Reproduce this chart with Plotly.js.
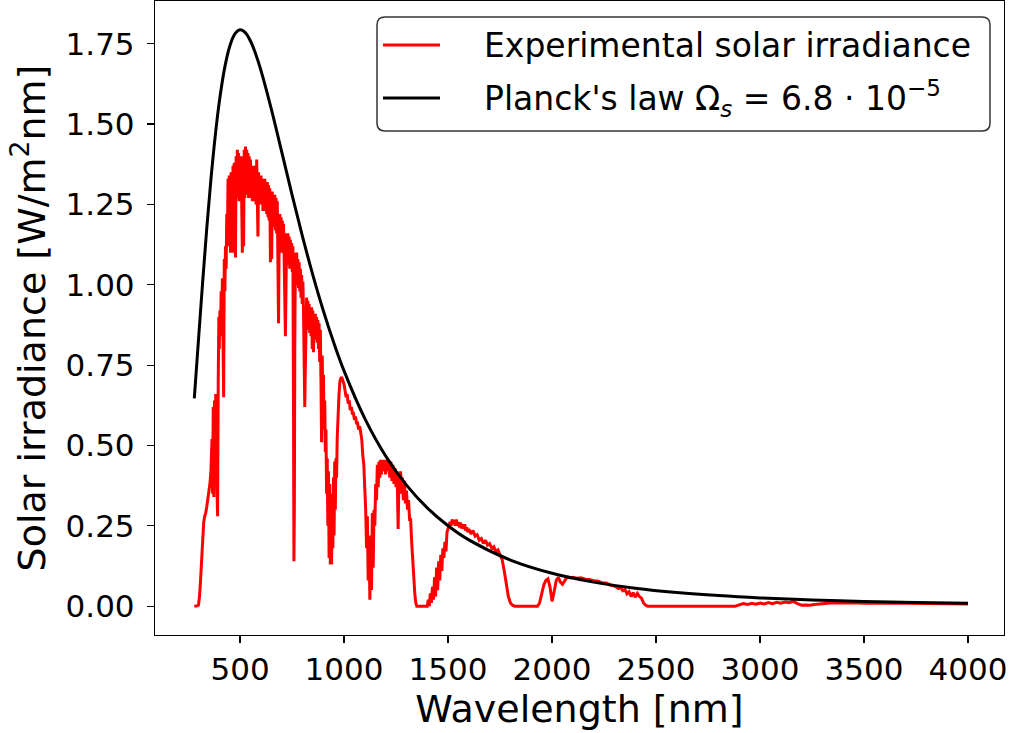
<!DOCTYPE html>
<html><head><meta charset="utf-8">
<script src="https://cdn.plot.ly/plotly-3.0.1.min.js"></script>
<style>body{margin:0;background:#fff}#chart{width:1011px;height:733px}</style>
</head><body><div id="chart"></div>
<script>
// Experimental solar irradiance, by segment
const uvWl  = [280,285,290,295,300,305,310,315,320,325,330,335,340,345,350,355,360,365,368,371,374,377,380,383,386,389,392,395,398];
const uvIrr = [0,0,0,0.001,0.003,0.03,0.08,0.15,0.22,0.26,0.28,0.29,0.31,0.33,0.36,0.38,0.42,0.52,0.35,0.62,0.34,0.64,0.40,0.66,0.45,0.30,0.28,0.70,0.90];

const visWl  = [400,403,406,409,412,415,418,421,424,427,430,433,436,439,442,445,448,451,454,457,460,463,466,469,472,475,478,481,484,487,490,493,496,499,502,505,508,511,514,517,520,523,526,529,532,535,538,541,544,547,550,553,556,559,562,565,568,571,574,577,580,583,586,589,592,595,598,601,604,607,610,613,616,619,622,625,628,631,634,637,640,643,646,649,652,655,658,661,664,667,670,673,676,679,682,685,688,691,694,697,700];
const visIrr = [0.80,0.92,0.84,0.98,0.88,1.02,0.90,0.65,1.08,0.98,1.12,1.05,1.22,1.12,1.33,1.18,1.34,1.22,1.10,1.35,1.24,1.10,1.37,1.26,1.38,1.27,1.085,1.40,1.28,1.42,1.27,1.41,1.26,1.40,1.27,1.40,1.25,1.10,1.39,1.12,1.42,1.27,1.43,1.28,1.42,1.29,1.41,1.27,1.40,1.28,1.39,1.27,1.37,1.26,1.37,1.27,1.36,1.26,1.37,1.25,1.39,1.25,1.15,1.35,1.26,1.34,1.25,1.34,1.25,1.33,1.23,1.33,1.24,1.33,1.23,1.32,1.22,1.32,1.21,1.31,1.20,1.30,1.07,1.29,1.08,1.29,1.19,1.28,1.18,1.28,1.17,1.27,1.16,1.26,1.13,0.88,1.15,1.22,1.12,1.21,1.10];

const nirWl  = [703,706,709,712,715,718,721,724,727,730,733,736,739,742,745,748,751,754,757,759,761,763,766,769,772,775,778,781,784,787,790,793,796,799,802,805,808,811,814,817,820,823,826,829,832,835,838,841,844,847,850,853,856,859,862,865,868,871,874,877,880,883,886,889,892,895,898,901,904,907,910,913,916,919,922,925,928,931,934,937,940,943,946,949,952,955,958,961,964,967,970,975,980,985,990,995,1000];
const nirIrr = [1.20,1.10,1.19,1.08,0.95,0.84,1.00,1.16,1.07,1.16,1.06,1.15,1.05,1.14,1.05,1.13,1.04,1.12,0.60,0.14,0.30,0.80,1.10,1.02,1.10,1.00,1.08,0.99,1.07,0.98,1.05,0.96,1.03,0.94,1.01,0.92,0.80,0.62,0.75,0.90,0.96,0.88,0.95,0.86,0.94,0.85,0.93,0.84,0.93,0.80,0.92,0.79,0.91,0.84,0.91,0.83,0.90,0.82,0.89,0.80,0.88,0.76,0.86,0.70,0.51,0.78,0.62,0.72,0.55,0.64,0.48,0.55,0.35,0.46,0.25,0.42,0.15,0.38,0.13,0.30,0.13,0.35,0.18,0.40,0.22,0.45,0.30,0.46,0.40,0.52,0.58,0.65,0.70,0.71,0.71,0.70,0.69];

const swWl  = [1005,1010,1015,1020,1025,1030,1035,1040,1045,1050,1055,1060,1065,1070,1075,1080,1085,1090,1095,1100,1104,1108,1112,1116,1120,1124,1128,1132,1136,1140,1144,1148,1152,1156,1160,1164,1168,1172,1176,1180,1185,1190,1195,1200,1205,1210,1215,1220,1225,1230,1235,1240,1245,1250,1255,1260,1264,1268,1272,1276,1280,1285,1290,1295,1300,1305,1310,1315,1320,1325,1330,1335,1340,1345,1350,1360,1370,1380,1390,1400];
const swIrr = [0.67,0.65,0.66,0.63,0.64,0.61,0.62,0.60,0.60,0.58,0.59,0.57,0.57,0.55,0.56,0.54,0.52,0.47,0.44,0.36,0.30,0.18,0.28,0.08,0.22,0.02,0.18,0.05,0.29,0.12,0.30,0.25,0.38,0.33,0.44,0.37,0.45,0.40,0.455,0.41,0.455,0.42,0.455,0.41,0.455,0.42,0.45,0.40,0.45,0.39,0.44,0.38,0.43,0.37,0.42,0.24,0.41,0.36,0.42,0.35,0.40,0.33,0.39,0.32,0.36,0.30,0.33,0.27,0.27,0.20,0.14,0.08,0.04,0.01,0,0,0,0,0,0];

const h1Wl  = [1405,1410,1415,1420,1425,1430,1435,1440,1445,1450,1455,1460,1465,1470,1475,1480,1485,1490,1495,1500,1505,1510,1515,1520,1525,1530,1535,1540,1545,1550,1555,1560,1565,1570,1575,1580,1585,1590,1595,1600,1610,1620,1630,1640,1650,1660,1670,1680,1690,1700,1710,1720,1730,1740,1750,1760,1770,1780,1790,1800,1810,1820,1850,1900,1930];
const h1Irr = [0.02,0,0.04,0.01,0.06,0.02,0.09,0.03,0.12,0.05,0.14,0.08,0.16,0.11,0.18,0.15,0.20,0.17,0.23,0.24,0.25,0.262,0.25,0.27,0.255,0.268,0.25,0.27,0.25,0.262,0.245,0.26,0.242,0.255,0.24,0.255,0.235,0.245,0.23,0.24,0.225,0.235,0.218,0.222,0.205,0.21,0.195,0.205,0.19,0.195,0.18,0.185,0.17,0.175,0.16,0.145,0.11,0.065,0.03,0.01,0.003,0,0,0,0];

const h2Wl  = [1940,1950,1960,1970,1980,1990,2000,2010,2020,2030,2040,2050,2060,2070,2080,2090,2100,2120,2140,2160,2180,2200,2220,2240,2260,2280,2300,2320,2330,2340,2350,2360,2370,2380,2390,2400,2410,2420,2430,2440,2450,2460,2500,2600,2700,2800,2880];
const h2Irr = [0.01,0.035,0.065,0.08,0.085,0.06,0.015,0.045,0.08,0.09,0.075,0.068,0.08,0.088,0.09,0.088,0.09,0.087,0.088,0.084,0.083,0.079,0.078,0.073,0.072,0.066,0.063,0.055,0.058,0.048,0.052,0.038,0.045,0.03,0.042,0.028,0.04,0.03,0.025,0.01,0.003,0,0,0,0,0,0];

const irWl  = [2900,2920,2940,2960,2980,3000,3020,3040,3060,3080,3100,3120,3140,3160,3180,3200,3220,3240,3260,3280,3300,3320,3350,3400,3450,3500,3550,3600,3700,3800,3900,4000];
const irIrr = [0.004,0.008,0.005,0.009,0.006,0.010,0.007,0.011,0.008,0.012,0.009,0.013,0.011,0.015,0.008,0.003,0.004,0.003,0.005,0.006,0.009,0.008,0.011,0.010,0.011,0.009,0.010,0.009,0.009,0.008,0.008,0.007];

// Planck's law, Omega_s = 6.8e-5 (values tabulated at these wavelengths)
const planckWl  = [280,300,320,340,360,380,400,425,450,475,500,525,550,575,600,650,700,750,800,850,900,950,1000,1100,1200,1300,1400,1500,1600,1800,2000,2200,2400,2600,2800,3000,3250,3500,3750,4000];
const planckIrr = [0.6463,0.8282,1.0078,1.1767,1.3285,1.4596,1.5682,1.6717,1.7415,1.7806,1.7936,1.7846,1.7584,1.7183,1.6680,1.5475,1.4144,1.2800,1.1507,1.0301,0.9200,0.8208,0.7321,0.5835,0.4673,0.3767,0.3060,0.2504,0.2064,0.1434,0.1023,0.07478,0.05581,0.04245,0.03283,0.02577,0.01940,0.01487,0.01159,0.009157];

const xTicks = [500,1000,1500,2000,2500,3000,3500,4000];
const yTicks = [0,0.25,0.5,0.75,1.0,1.25,1.5,1.75];
const seriesNames = ['Experimental solar irradiance', "Planck's law Ω<sub><i>s</i></sub> = 6.8 · 10<sup>−5</sup>"];

const expWl  = [].concat(uvWl, visWl, nirWl, swWl, h1Wl, h2Wl, irWl);
const expIrr = [].concat(uvIrr, visIrr, nirIrr, swIrr, h1Irr, h2Irr, irIrr);

const FONT = 'DejaVu Sans, Arial, sans-serif';
const L = 155, R = 1004, T = 1, B = 635;
const px = v => (v - L) / (R - L);
const py = v => (B - v) / (B - T);

const traces = [
  {x: expWl, y: expIrr, type: 'scatter', mode: 'lines', name: seriesNames[0],
   line: {color: '#ff0000', width: 3}, showlegend: false},
  {x: planckWl, y: planckIrr, type: 'scatter', mode: 'lines', name: seriesNames[1],
   line: {color: '#000000', width: 3, shape: 'spline'}, showlegend: false}
];

// legend box (rounded) in paper coords
const bx0 = px(377), bx1 = px(990), by0 = py(131), by1 = py(17);
const rx = 8 / (R - L), ry = 8 / (B - T);
const boxPath = `M ${bx0+rx},${by1} L ${bx1-rx},${by1} Q ${bx1},${by1} ${bx1},${by1-ry} L ${bx1},${by0+ry} Q ${bx1},${by0} ${bx1-rx},${by0} L ${bx0+rx},${by0} Q ${bx0},${by0} ${bx0},${by0+ry} L ${bx0},${by1-ry} Q ${bx0},${by1} ${bx0+rx},${by1} Z`;

const layout = {
  width: 1011, height: 733,
  margin: {l: L, r: 1011 - R, t: T, b: 733 - B, pad: 0},
  paper_bgcolor: '#fff', plot_bgcolor: '#fff',
  font: {family: FONT, size: 31, color: '#000'},
  xaxis: {
    range: [91, 4173], tickvals: xTicks, ticks: 'outside', ticklen: 7, tickwidth: 1.2,
    tickcolor: '#000', showline: true, linecolor: '#000', linewidth: 1.2, mirror: true,
    showgrid: false, zeroline: false, tickfont: {family: FONT, size: 31, color: '#000'},
    title: {text: 'Wavelength [nm]', font: {family: FONT, size: 38, color: '#000'}, standoff: 6}
  },
  yaxis: {
    range: [-0.0897, 1.883], tickvals: yTicks, tickformat: '.2f', ticks: 'outside', ticklen: 7, tickwidth: 1.2,
    tickcolor: '#000', showline: true, linecolor: '#000', linewidth: 1.2, mirror: true,
    showgrid: false, zeroline: false, tickfont: {family: FONT, size: 31, color: '#000'},
    ticklabelstandoff: 6,
    title: {text: 'Solar irradiance [W/m<sup>2</sup>nm]', font: {family: FONT, size: 38, color: '#000'}, standoff: 8}
  },
  shapes: [
    {type: 'path', xref: 'paper', yref: 'paper', path: boxPath, fillcolor: 'rgba(255,255,255,0.8)',
     line: {color: 'rgba(0,0,0,0.8)', width: 1.5}, layer: 'above'},
    {type: 'line', xref: 'paper', yref: 'paper', x0: px(383), x1: px(440), y0: py(45), y1: py(45),
     line: {color: '#ff0000', width: 3}, layer: 'above'},
    {type: 'line', xref: 'paper', yref: 'paper', x0: px(383), x1: px(440), y0: py(98), y1: py(98),
     line: {color: '#000000', width: 3}, layer: 'above'}
  ],
  annotations: [
    {xref: 'paper', yref: 'paper', x: px(482), y: py(45), xanchor: 'left', yanchor: 'middle',
     text: seriesNames[0], showarrow: false, font: {family: FONT, size: 33, color: '#000'}},
    {xref: 'paper', yref: 'paper', x: px(482), y: py(98), xanchor: 'left', yanchor: 'middle',
     text: seriesNames[1], showarrow: false, font: {family: FONT, size: 33, color: '#000'}}
  ],
  showlegend: false
};

Plotly.newPlot('chart', traces, layout, {displayModeBar: false, staticPlot: true});
</script>
</body></html>
